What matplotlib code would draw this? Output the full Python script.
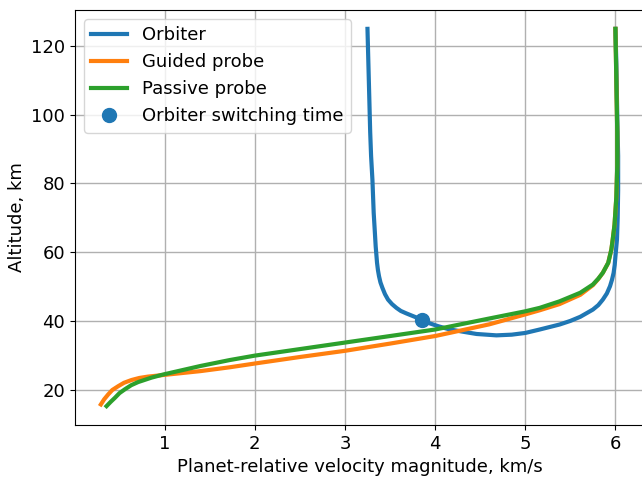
import matplotlib
matplotlib.use("Agg")
import matplotlib.pyplot as plt

# Orbiter trajectory (velocity km/s, altitude km)
orbiter_v = [3.25, 3.26, 3.27, 3.28, 3.29, 3.305, 3.319, 3.33, 3.341, 3.356, 3.366, 3.378,
             3.394, 3.416, 3.444, 3.478, 3.522, 3.571, 3.62, 3.68, 3.774, 3.855, 3.94, 4.03,
             4.15, 4.3, 4.46, 4.68, 4.85, 5.0, 5.16, 5.38, 5.5, 5.61, 5.75, 5.81, 5.86, 5.905,
             5.94, 5.962, 5.98, 5.992, 6.0, 6.017, 6.025, 6.03, 6.03, 6.02, 6.01, 6.0]
orbiter_h = [125, 115, 105, 95, 88, 81, 71.4, 66.6, 61.7, 56.9, 54.8, 53.0,
             51.2, 49.6, 47.8, 46.2, 44.9, 43.8, 42.9, 42.2, 41.2, 40.4, 39.3, 38.5,
             37.6, 36.9, 36.2, 35.8, 36.0, 36.5, 37.5, 38.95, 40.0, 41.2, 43.3, 44.6, 46.2, 48.0,
             50.1, 52.0, 54.0, 56.3, 58.8, 63.7, 70, 78, 88, 100, 115, 125]

guided_v = [6.0, 6.01, 6.02, 6.02, 6.01, 5.99, 5.97, 5.955, 5.92, 5.86, 5.81, 5.75, 5.61,
            5.38, 5.16, 5.0, 4.6, 4.0, 3.5, 3.0, 2.5, 2.0, 1.72, 1.4, 1.0, 0.817, 0.72,
            0.633, 0.55, 0.485, 0.42, 0.374, 0.33, 0.293]
guided_h = [125, 110, 95, 85, 76, 68, 63.7, 60.8, 56.9, 54.0, 52.2, 50.4, 47.6,
            44.9, 43.1, 41.9, 39.0, 35.6, 33.4, 31.3, 29.5, 27.6, 26.5, 25.4, 24.3, 23.8, 23.4,
            22.8, 22.0, 21.0, 19.9, 18.6, 17.2, 15.7]

passive_v = [6.0, 6.01, 6.02, 6.02, 6.01, 5.99, 5.97, 5.955, 5.92, 5.86, 5.81, 5.75, 5.61,
             5.38, 5.16, 5.0, 4.6, 4.0, 3.5, 3.0, 2.5, 2.0, 1.72, 1.4, 1.2, 0.983, 0.855,
             0.706, 0.63, 0.559, 0.5, 0.448, 0.4, 0.356]
passive_h = [125, 110, 95, 85, 76, 68, 63.7, 60.8, 56.9, 54.0, 52.3, 50.6, 48.2,
             45.7, 43.8, 42.8, 40.7, 37.5, 35.6, 33.7, 31.8, 29.9, 28.6, 26.9, 25.7, 24.4, 23.5,
             22.2, 21.3, 20.1, 19.0, 17.6, 16.4, 15.2]

switch_v = [3.855]
switch_h = [40.3]

fig = plt.figure(figsize=(6.42, 4.79), dpi=100)
ax = fig.add_axes([75/642, 1-425/479, 569/642, 415/479])

ax.plot(orbiter_v, orbiter_h, color="#1f77b4", lw=3, label="Orbiter")
ax.plot(guided_v, guided_h, color="#ff7f0e", lw=3, label="Guided probe")
ax.plot(passive_v, passive_h, color="#2ca02c", lw=3, label="Passive probe")
ax.plot(switch_v, switch_h, "o", color="#1f77b4", ms=10, label="Orbiter switching time")

ax.grid(True, color="#b0b0b0", lw=1)
ax.set_axisbelow(True)
ax.set_xticks([1, 2, 3, 4, 5, 6])
ax.set_yticks([20, 40, 60, 80, 100, 120])
ax.tick_params(labelsize=13)
ax.set_xlabel("Planet-relative velocity magnitude, km/s", fontsize=13)
ax.set_ylabel("Altitude, km", fontsize=13)
ax.legend(loc="upper left", fontsize=13)

fig.savefig("out.png", dpi=100)
